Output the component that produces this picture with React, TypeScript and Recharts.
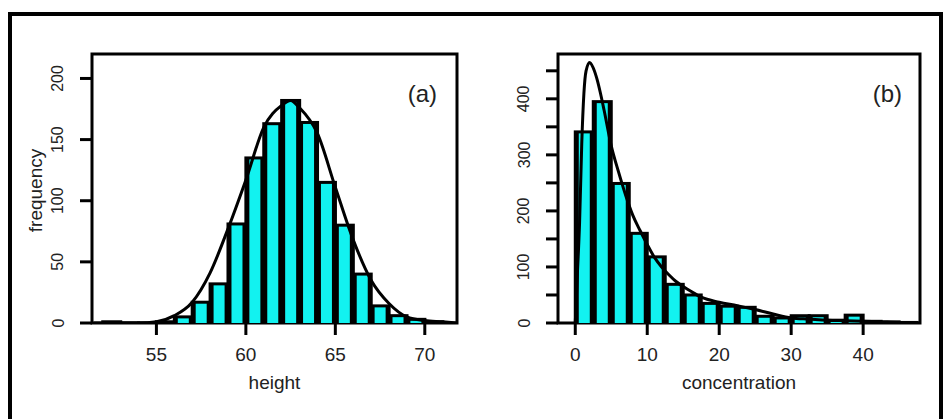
import { ComposedChart, Bar, Line, XAxis, YAxis, ReferenceArea } from 'recharts'

// (a) height histogram, 1-unit bins (centres) + fitted normal curve
const heightBins = [52.5, 53.5, 54.5, 55.5, 56.5, 57.5, 58.5, 59.5, 60.5, 61.5, 62.5, 63.5, 64.5, 65.5, 66.5, 67.5, 68.5, 69.5, 70.5]
const heightCounts = [1, 0, 0, 1, 5, 17, 32, 81, 135, 163, 182, 164, 115, 80, 40, 14, 6, 3, 1]
const heightFitX = [51.5, 53, 54, 55, 56, 57, 58, 59, 60, 61, 62, 62.5, 63, 64, 65, 66, 67, 68, 69, 70, 71, 71.8]
const heightFitY = [0, 0, 0, 1, 6, 17, 41, 77, 117, 160, 178, 182, 176, 155, 111, 68, 35, 16, 5, 2, 1, 0]
const heightTicks = [55, 60, 65, 70]
const heightFreqTicks = [0, 50, 100, 150, 200]

// (b) concentration histogram, 2.5-unit bins (centres) + fitted skewed curve
const concBins = [1.25, 3.75, 6.25, 8.75, 11.25, 13.75, 16.25, 18.75, 21.25, 23.75, 26.25, 28.75, 31.25, 33.75, 36.25, 38.75, 41.25, 43.75, 46.25]
const concCounts = [341, 395, 249, 160, 118, 69, 50, 35, 30, 28, 12, 9, 13, 13, 5, 14, 3, 2, 1]
const concFitX = [0, 0.3, 0.6, 0.9, 1.2, 1.5, 2, 2.5, 3, 3.5, 4, 5, 6, 7, 8, 9, 10, 11, 12, 13, 14, 15, 16, 17.5, 20, 22.5, 25, 27.5, 30, 32.5, 35, 37.5, 40, 42.5, 45, 47.5]
const concFitY = [0, 90, 180, 320, 410, 450, 465, 455, 436, 410, 380, 316, 270, 228, 192, 165, 140, 117, 100, 86, 74, 65, 57, 46, 37, 31, 24, 16, 9, 7, 5, 4, 3, 2, 1, 1]
const concTicks = [0, 10, 20, 30, 40]
const concFreqTicks = [0, 50, 100, 150, 200, 250, 300, 350, 400, 450]

const FONT = '"Liberation Sans", Arial, Helvetica, sans-serif'
const INK = '#222'
const CYAN = '#12F2F0'

const HistBar = (props: any) => {
  const { x, y, width, height } = props
  if (x == null || y == null) return <g />
  const h = Math.max(height || 0, 0)
  return (
    <g>
      <rect x={x - 1.5} y={y - 1.5} width={width + 3} height={h + 1.5} fill="#000" />
      {h > 2.5 && <rect x={x + 3.5} y={y + 1.5} width={width - 7} height={h - 1.5} fill={CYAN} />}
    </g>
  )
}

const XTick = (props: any) => {
  const { x, y, payload } = props
  return (
    <text x={x} y={y + 24} textAnchor="middle" fontSize={19} fontFamily={FONT} fill={INK}>
      {payload.value}
    </text>
  )
}

const makeYTick = (every: number) => (props: any) => {
  const { x, y, payload } = props
  if (payload.value % every !== 0) return <g />
  const cx = x - 20
  return (
    <text x={cx} y={y} transform={`rotate(-90 ${cx} ${y})`} textAnchor="middle" dominantBaseline="central"
      fontSize={16} fontFamily={FONT} fill={INK}>
      {payload.value}
    </text>
  )
}

const xTitle = (text: string) => (props: any) => {
  const vb = props.viewBox || {}
  return (
    <text x={vb.x + vb.width / 2} y={vb.y + 66} textAnchor="middle" fontSize={19} fontFamily={FONT} fill={INK}>
      {text}
    </text>
  )
}

const yTitle = (text: string) => (props: any) => {
  const vb = props.viewBox || {}
  const cx = vb.x + 35
  const cy = vb.y + vb.height / 2 + 2
  return (
    <text x={cx} y={cy} transform={`rotate(-90 ${cx} ${cy})`} textAnchor="middle" dominantBaseline="central"
      fontSize={19} fontFamily={FONT} fill={INK}>
      {text}
    </text>
  )
}

const tagLabel = (text: string, dx: number) => (props: any) => {
  const vb = props.viewBox || {}
  return (
    <text x={vb.x + vb.width - dx} y={vb.y + 48} textAnchor="end" fontSize={24} fontFamily={FONT} fill={INK}>
      {text}
    </text>
  )
}

interface PanelProps {
  width: number
  axisWidth: number
  right: number
  bins: number[]
  counts: number[]
  fitX: number[]
  fitY: number[]
  xDomain: [number, number]
  xTicks: number[]
  yDomain: [number, number]
  yTicks: number[]
  labelEvery: number
  tag: string
  tagDx: number
  xLabel: string
  yLabel?: string
}

function Panel(p: PanelProps) {
  const bars = p.bins.map((mid, i) => ({ mid, count: p.counts[i] }))
  const fit = p.fitX.map((x, i) => ({ x, y: p.fitY[i] }))
  return (
    <ComposedChart width={p.width} height={419} data={bars} margin={{ top: 54, right: p.right, bottom: 0, left: 0 }}
      barCategoryGap={0} barGap={0}>
      <XAxis xAxisId="bin" dataKey="mid" type="number" domain={p.xDomain} ticks={p.xTicks} interval={0}
        allowDataOverflow height={96} tickSize={12} tickLine={{ stroke: '#000', strokeWidth: 3 }} axisLine={false}
        tick={XTick} label={xTitle(p.xLabel)} />
      <XAxis xAxisId="fit" dataKey="x" type="number" domain={p.xDomain} allowDataOverflow hide />
      <YAxis type="number" domain={p.yDomain} ticks={p.yTicks} interval={0} allowDataOverflow width={p.axisWidth}
        tickSize={12} tickLine={{ stroke: '#000', strokeWidth: 3 }} axisLine={false} tick={makeYTick(p.labelEvery)}
        label={p.yLabel ? yTitle(p.yLabel) : undefined} />
      <Bar xAxisId="bin" dataKey="count" shape={HistBar} isAnimationActive={false} />
      <Line xAxisId="fit" data={fit} dataKey="y" type="monotone" stroke="#000" strokeWidth={3} dot={false}
        activeDot={false} isAnimationActive={false} />
      <ReferenceArea xAxisId="bin" x1={p.xDomain[0]} x2={p.xDomain[1]} y1={p.yDomain[0]} y2={p.yDomain[1]}
        fill="none" fillOpacity={0} stroke="#000" strokeWidth={3} ifOverflow="visible" label={tagLabel(p.tag, p.tagDx)} />
    </ComposedChart>
  )
}

export default function App() {
  return (
    <div style={{ position: 'absolute', left: 0, top: 0, width: 946, height: 419, overflow: 'hidden', background: '#fff' }}>
      <div style={{ position: 'absolute', left: 8, top: 12, width: 935, height: 420, border: '4px solid #000',
        borderBottom: 'none', boxSizing: 'border-box' }} />
      <div style={{ position: 'absolute', left: 0, top: 0 }}>
        <Panel width={470} axisWidth={92} right={13} bins={heightBins} counts={heightCounts} fitX={heightFitX}
          fitY={heightFitY} xDomain={[51.4, 71.8]} xTicks={heightTicks} yDomain={[0, 220]} yTicks={heightFreqTicks}
          labelEvery={50} tag="(a)" tagDx={20} xLabel="height" yLabel="frequency" />
      </div>
      <div style={{ position: 'absolute', left: 470, top: 0 }}>
        <Panel width={476} axisWidth={88} right={26} bins={concBins} counts={concCounts} fitX={concFitX}
          fitY={concFitY} xDomain={[-2.4, 47.9]} xTicks={concTicks} yDomain={[0, 480]} yTicks={concFreqTicks}
          labelEvery={100} tag="(b)" tagDx={18} xLabel="concentration" />
      </div>
    </div>
  )
}
